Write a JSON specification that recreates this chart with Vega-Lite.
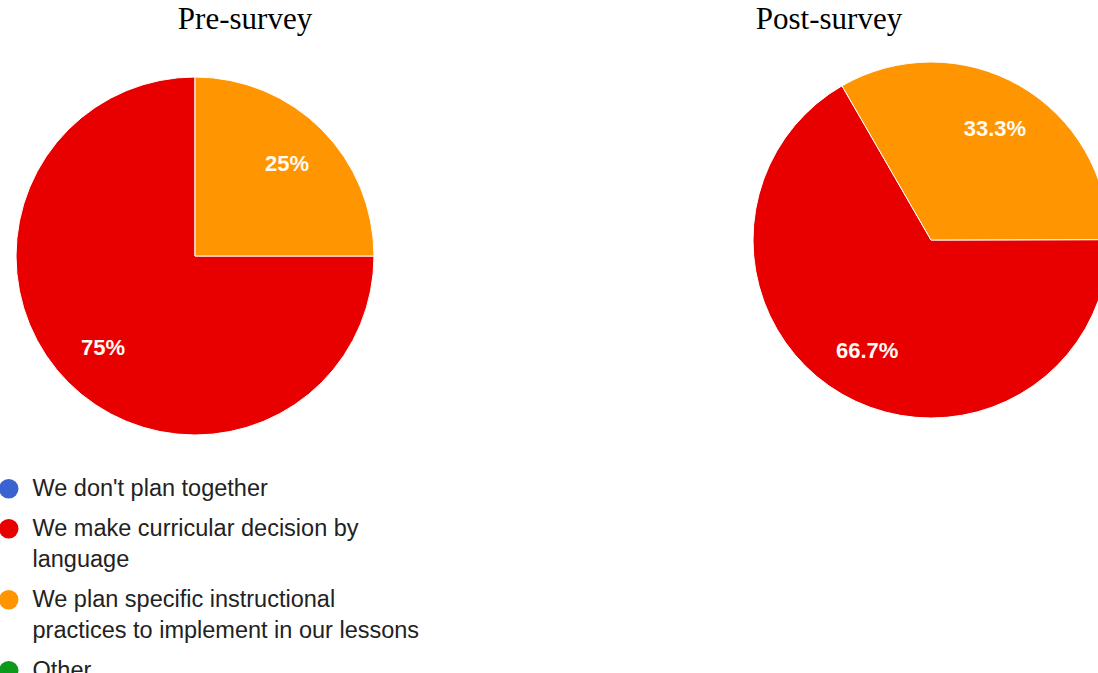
{
  "$schema": "https://vega.github.io/schema/vega-lite/v6.json",
  "padding": {"top": 4, "left": -3, "right": 0, "bottom": 0},
  "background": "white",
  "datasets": {
    "pre": [
      {"answer": "We make curricular decision by language", "share": 75, "label": "75%"},
      {"answer": "We plan specific instructional practices to implement in our lessons", "share": 25, "label": "25%"}
    ],
    "post": [
      {"answer": "We make curricular decision by language", "share": 66.7, "label": "66.7%"},
      {"answer": "We plan specific instructional practices to implement in our lessons", "share": 33.3, "label": "33.3%"}
    ]
  },
  "config": {
    "view": {"stroke": null},
    "title": {"font": "Liberation Serif", "fontSize": 31, "fontWeight": "normal", "color": "#000"},
    "concat": {"spacing": 362},
    "style": {"guide-label": {"lineHeight": 31}}
  },
  "hconcat": [
    {
      "title": {"text": "Pre-survey", "dx": 50},
      "width": 388,
      "height": 432,
      "data": {"name": "pre"},
      "encoding": {
        "theta": {"field": "share", "type": "quantitative", "stack": true, "scale": {"range": [0, 6.283185]}},
        "order": {"field": "answer", "sort": "descending"}
      },
      "layer": [
        {
          "mark": {"type": "arc", "outerRadius": 179, "stroke": "white", "strokeWidth": 1},
          "encoding": {
            "color": {
              "field": "answer",
              "type": "nominal",
              "scale": {
                "domain": ["We don't plan together", "We make curricular decision by language", "We plan specific instructional practices to implement in our lessons", "Other"],
                "range": ["#3a62d0", "#e80000", "#ff9500", "#0c9a1c"]
              },
              "legend": {
                "orient": "none",
                "legendX": -4,
                "legendY": 437,
                "title": null,
                "symbolType": "circle",
                "symbolSize": 380,
                "symbolStrokeWidth": 0,
                "symbolOpacity": 1,
                "labelFont": "Liberation Sans",
                "labelFontSize": 23.5,
                "labelColor": "#222222",
                "labelOffset": 12,
                "labelLimit": 700,
                "rowPadding": 15,
                "labelExpr": "datum.label == 'We make curricular decision by language' ? ['We make curricular decision by', 'language'] : datum.label == 'We plan specific instructional practices to implement in our lessons' ? ['We plan specific instructional', 'practices to implement in our lessons'] : datum.label",
                "encode": {"labels": {"update": {"lineHeight": {"value": 31}}}}
              }
            }
          }
        },
        {
          "mark": {"type": "text", "radius": 130, "font": "Liberation Sans", "fontSize": 22, "fontWeight": "bold", "color": "#fffaf2"},
          "encoding": {
            "text": {"field": "label"},
            "detail": {"field": "answer"}
          }
        }
      ]
    },
    {
      "title": {"text": "Post-survey", "dx": -102},
      "width": 360,
      "height": 400,
      "data": {"name": "post"},
      "encoding": {
        "theta": {"field": "share", "type": "quantitative", "stack": true, "scale": {"range": [-0.523599, 5.759587]}},
        "order": {"field": "answer", "sort": "descending"}
      },
      "layer": [
        {
          "mark": {"type": "arc", "outerRadius": 178, "stroke": "white", "strokeWidth": 1},
          "encoding": {
            "color": {"field": "answer", "type": "nominal"}
          }
        },
        {
          "mark": {"type": "text", "radius": 128, "font": "Liberation Sans", "fontSize": 22, "fontWeight": "bold", "color": "#fffaf2"},
          "encoding": {
            "text": {"field": "label"},
            "detail": {"field": "answer"}
          }
        }
      ]
    }
  ],
  "resolve": {"scale": {"theta": "independent"}}
}
